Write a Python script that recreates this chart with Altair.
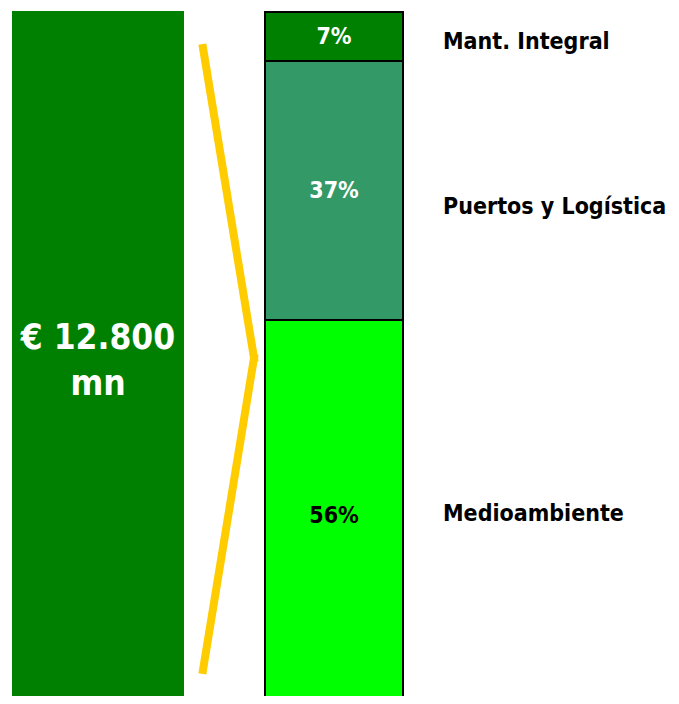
import altair as alt
import pandas as pd

# ---- data ----
categories = ["Medioambiente", "Puertos y Logística", "Mant. Integral"]
shares = [56, 37, 7]
seg_colors = ["#00FF00", "#339966", "#008000"]
pct_label_colors = ["black", "white", "white"]
total_share = [100]
total_label = ["€ 12.800", "mn"]

FONT = "DejaVu Sans Condensed"

df = pd.DataFrame({
    "cat": categories,
    "share": shares,
    "order": list(range(len(categories))),
    "lc": pct_label_colors,
})
df_total = pd.DataFrame({"share": total_share})

yscale = alt.Scale(domain=[0, 100], range=[704, 4])

base = alt.Chart(df).transform_stack(
    stack="share", as_=["y0", "y1"], groupby=[], sort=[alt.SortField("order")]
).transform_calculate(
    mid="(datum.y0 + datum.y1) / 2", pct="datum.share + '%'"
)

bars = base.mark_bar(stroke="black", strokeWidth=2).encode(
    x=alt.value(257), x2=alt.value(395),
    y=alt.Y("y1:Q", scale=yscale, axis=None), y2="y0:Q",
    color=alt.Color("cat:N", scale=alt.Scale(domain=categories, range=seg_colors), legend=None),
)

pct_text = base.mark_text(font=FONT, fontSize=23, fontWeight="bold", baseline="middle").encode(
    x=alt.value(326),
    y=alt.Y("mid:Q", scale=yscale, axis=None),
    text="pct:N",
    color=alt.Color("lc:N", scale=None),
)

label_dy = {"Medioambiente": -2, "Puertos y Logística": 16, "Mant. Integral": 5}
cat_layers = []
for c in categories:
    cat_layers.append(
        base.transform_filter(alt.datum.cat == c).mark_text(
            font=FONT, fontSize=23, fontWeight="bold", align="left", baseline="middle",
            color="black", dy=label_dy[c]
        ).encode(
            x=alt.value(435), y=alt.Y("mid:Q", scale=yscale, axis=None), text="cat:N"
        )
    )

total_bar = alt.Chart(df_total).mark_bar(color="#008000", stroke="#008000", strokeWidth=2).encode(
    x=alt.value(5), x2=alt.value(175),
    y=alt.Y("share:Q", scale=yscale, axis=None), y2=alt.datum(0),
)

total_text = alt.Chart(df_total).transform_calculate(half="datum.share / 2").mark_text(
    font=FONT, fontSize=35, fontWeight="bold", color="white", baseline="middle",
    text=total_label, lineHeight=46, dy=-24
).encode(
    x=alt.value(90), y=alt.Y("half:Q", scale=yscale, axis=None),
)

chev1 = alt.Chart(df_total).mark_rule(color="#FFCC00", strokeWidth=8, strokeCap="square").encode(
    x=alt.value(195), y=alt.value(40), x2=alt.value(246), y2=alt.value(350)
)
chev2 = alt.Chart(df_total).mark_rule(color="#FFCC00", strokeWidth=8, strokeCap="square").encode(
    x=alt.value(246), y=alt.value(350), x2=alt.value(195), y2=alt.value(662)
)

chart = alt.layer(
    total_bar, total_text, chev1, chev2, bars, pct_text, *cat_layers
).properties(
    width=663, height=688, padding=0, autosize=alt.AutoSizeParams(type="none")
).configure_view(stroke=None)

chart.save("out.html", embed_options={"renderer": "svg", "actions": False})
